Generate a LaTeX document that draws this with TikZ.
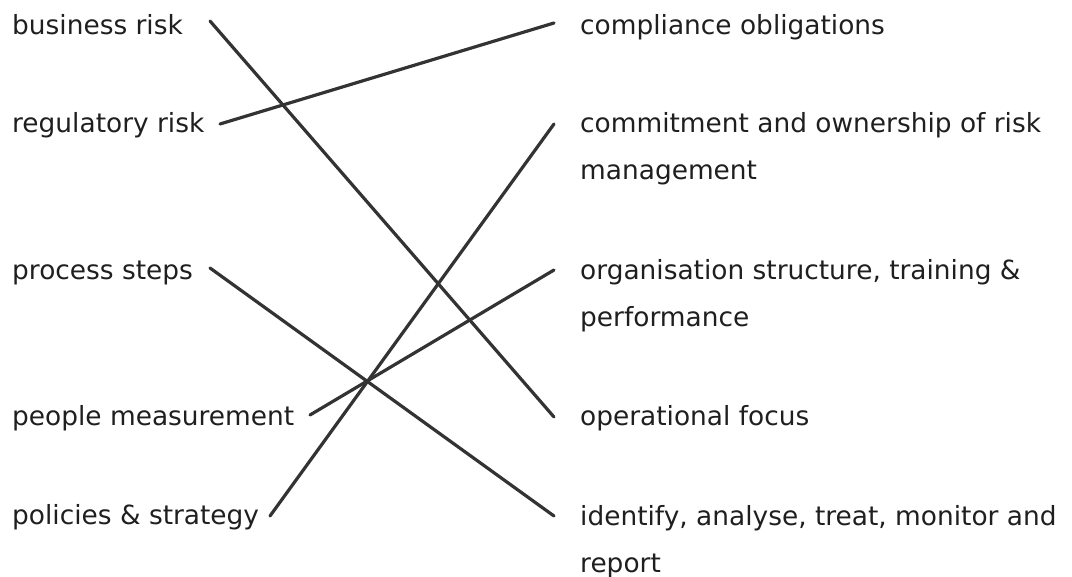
\documentclass[tikz,border=0pt]{standalone}
\usepackage{fontspec}
\setmainfont{DejaVu Sans}
\tikzset{
  item/.style={anchor=base west, inner sep=0pt, text=black!88,
    font=\fontsize{26.4}{47}\selectfont, align=left},
  link/.style={draw=black!80, line width=3.2pt, line cap=round},
}
\begin{document}
\begin{tikzpicture}[x=1pt, y=-1pt]
\useasboundingbox (0,0) rectangle (1072,577);
% left column
\node[item] (business) at (12,35) {business risk};
\node[item] (regulatory) at (12,133) {regulatory risk};
\node[item] (process) at (12,280) {process steps};
\node[item] (people) at (12,426) {people measurement};
\node[item] (policies) at (12,525) {policies \& strategy};
% right column (two-line items sit on their last line)
\node[item] (compliance) at (580,35) {compliance obligations};
\node[item] (commitment) at (580,180) {commitment and ownership of risk\\management};
\node[item] (organisation) at (580,327) {organisation structure, training \&\\performance};
\node[item] (operational) at (580,426) {operational focus};
\node[item] (identify) at (580,572) {identify, analyse, treat, monitor and\\report};
% line ends
\coordinate (business-r) at (210,21);
\coordinate (regulatory-r) at (220,124);
\coordinate (process-r) at (210,268);
\coordinate (people-r) at (310,415);
\coordinate (policies-r) at (270,516);
\coordinate (compliance-l) at (554,23);
\coordinate (commitment-l) at (554,124);
\coordinate (organisation-l) at (554,270);
\coordinate (operational-l) at (554,417);
\coordinate (identify-l) at (554,516);
% matching lines
\draw[link] (business-r) -- (operational-l);
\draw[link] (regulatory-r) -- (compliance-l);
\draw[link] (process-r) -- (identify-l);
\draw[link] (people-r) -- (organisation-l);
\draw[link] (policies-r) -- (commitment-l);
\end{tikzpicture}
\end{document}
